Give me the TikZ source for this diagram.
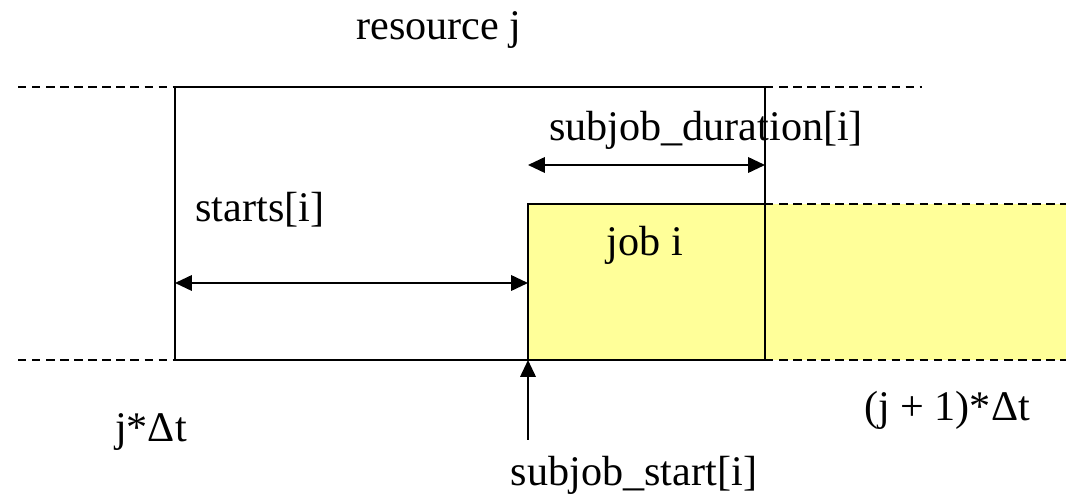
\documentclass[tikz,border=0pt]{standalone}
\usepackage{fontspec}
\setmainfont{Liberation Serif}
\usetikzlibrary{arrows.meta}

\definecolor{jobyellow}{RGB}{255,255,153}

\begin{document}
\begin{tikzpicture}[x=0.025cm,y=-0.025cm,
	every node/.style={font=\fontsize{30}{36}\selectfont},
	lbl/.style={inner sep=0pt},
	frame/.style={line width=1.4pt},
	guide/.style={line width=1.1pt,dashed,dash pattern=on 6pt off 4pt},
	dim/.style={line width=1.4pt,{Triangle[length=12pt,width=11pt]}-{Triangle[length=12pt,width=11pt]}},
	pin/.style={line width=1.4pt,-{Triangle[length=12pt,width=11pt]}}]
	\useasboundingbox (0,0) rectangle (1066,497);

	% corners of the resource slot
	\coordinate (tl) at (175,87);
	\coordinate (tr) at (765,87);
	\coordinate (bl) at (175,360);
	\coordinate (br) at (765,360);
	\coordinate (js) at (528,360);
	\coordinate (jt) at (528,204);
	\coordinate (jr) at (765,204);

	% job i (spills into next slot)
	\fill[jobyellow] (jt) rectangle (1066,360);
	\draw[guide] (jr) -- (1066,204);
	\draw[guide] (jr) -- (br);
	\draw[frame] (js) -- (jt) -- (jr);

	% slot j
	\draw[frame] (bl) rectangle (tr);
	\draw[guide] (18,87) -- (tl);
	\draw[guide,line width=0.8pt] (tr) -- (922,87);
	\draw[guide] (18,360) -- (bl);
	\draw[guide] (br) -- (1066,360);

	% dimensions
	\coordinate (ds) at (528,165);
	\coordinate (de) at (765,165);
	\draw[dim] (ds) -- (de);
	\coordinate (ss) at (175,283);
	\coordinate (se) at (528,283);
	\draw[dim] (ss) -- (se);
	\coordinate (pb) at (528,440);
	\draw[pin] (pb) -- (js);

	% labels
	\node[lbl] (res) at (439,30) {resource j};
	\node[lbl] (dur) at (706,130) {subjob\_duration[i]};
	\node[lbl] (sta) at (260,210) {starts[i]};
	\node[lbl] (job) at (645,245) {job i};
	\node[lbl] (t0) at (151,432) {j*Δt};
	\node[lbl] (t1) at (947,410) {(j + 1)*Δt};
	\node[lbl] (sub) at (634,475) {subjob\_start[i]};
\end{tikzpicture}
\end{document}
